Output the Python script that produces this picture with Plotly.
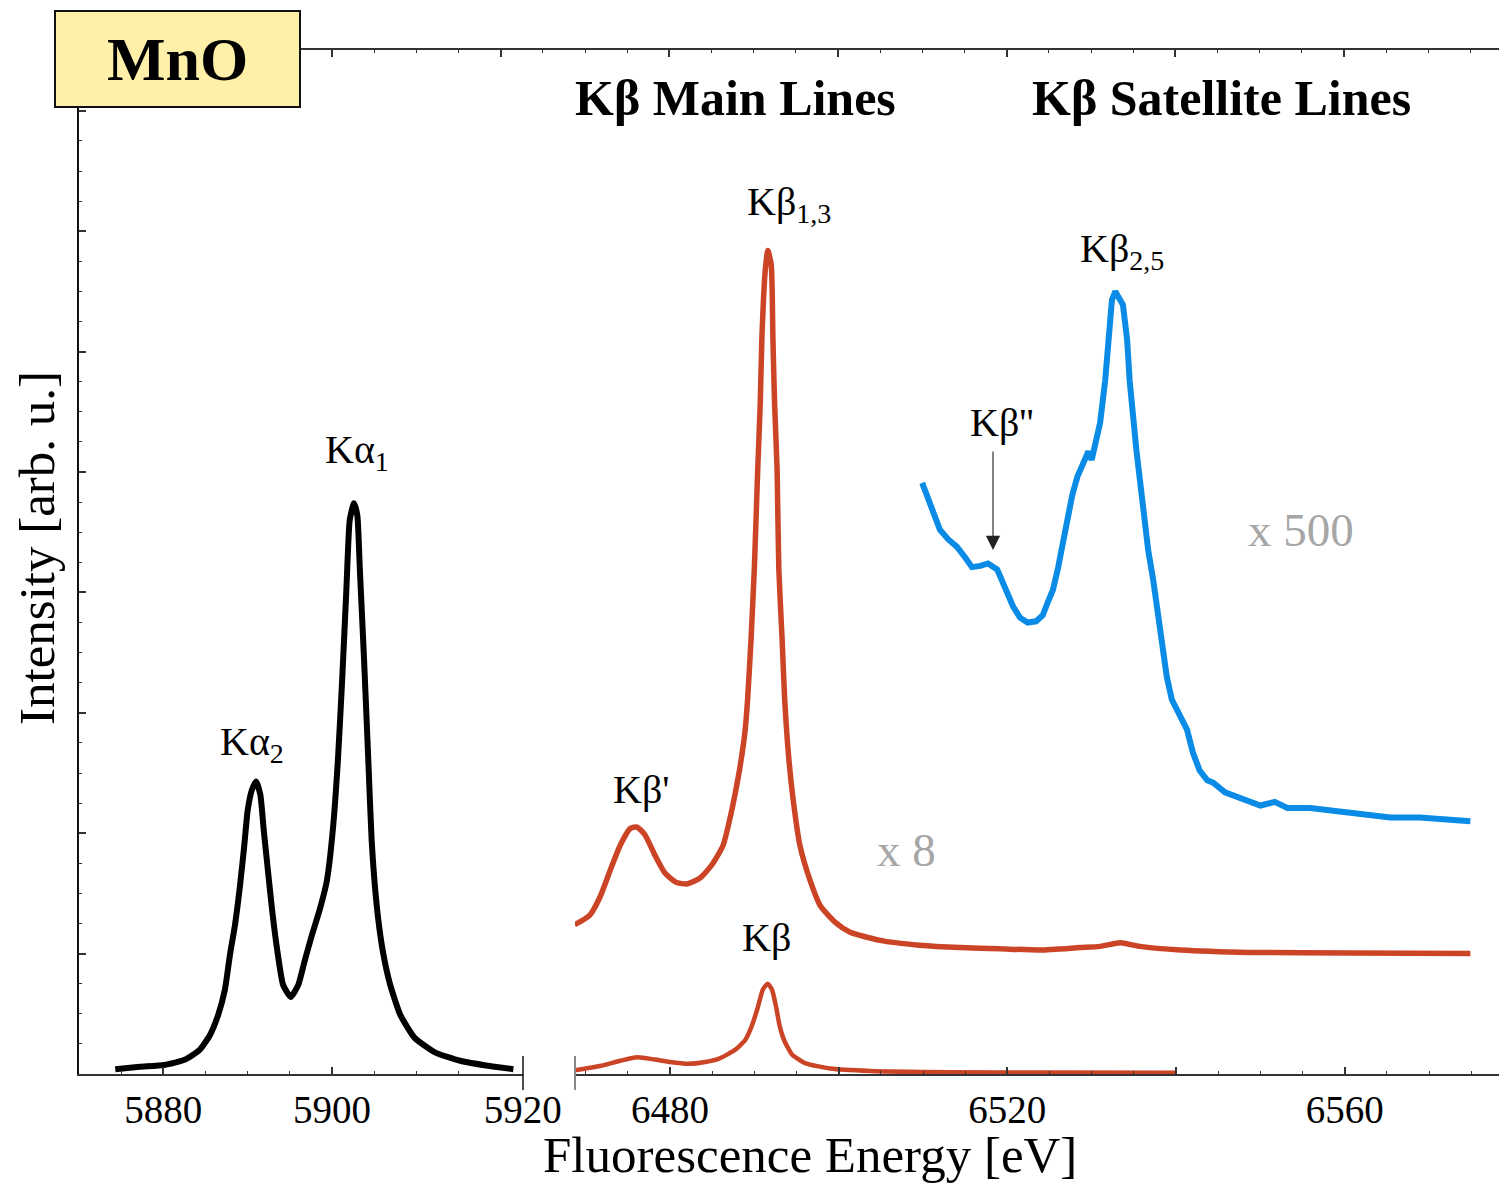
import plotly.graph_objects as go

# ---------------- data ----------------
kalpha_x = [5874.3, 5877.2, 5880.1, 5882.6, 5884.3, 5885.5, 5886.5, 5887.3, 5887.9, 5888.5,
            5889.1, 5889.6, 5890.0, 5890.5, 5891.0, 5891.5, 5891.9, 5892.4, 5892.9, 5893.5,
            5894.2, 5895.1, 5896.0, 5896.8, 5897.6, 5898.6, 5899.4, 5900.1, 5900.7, 5901.2,
            5901.7, 5902.1, 5902.6, 5903.0, 5903.3, 5903.8, 5904.3, 5904.7, 5905.3, 5906.0,
            5906.9, 5908.1, 5909.8, 5912.2, 5915.2, 5918.7, 5921.5]
kalpha_y = [0.04, 0.06, 0.075, 0.12, 0.20, 0.32, 0.49, 0.70, 0.99, 1.24,
            1.57, 1.90, 2.19, 2.36, 2.43, 2.32, 2.03, 1.69, 1.36, 1.03,
            0.74, 0.64, 0.74, 0.95, 1.15, 1.38, 1.61, 2.03, 2.61, 3.27,
            4.02, 4.60, 4.74, 4.64, 4.19, 3.44, 2.61, 1.94, 1.40, 1.03,
            0.74, 0.49, 0.30, 0.18, 0.11, 0.066, 0.04]

kb8_x = [6468.7, 6470.5, 6471.7, 6472.9, 6474.1, 6475.3, 6476.1, 6477.0, 6478.2, 6479.4,
         6480.8, 6482.1, 6483.6, 6485.0, 6486.3, 6487.1, 6487.7, 6488.3, 6488.9, 6489.2,
         6489.6, 6490.0, 6490.4, 6490.7, 6490.9, 6491.3, 6491.6, 6492.0, 6492.2, 6492.4,
         6492.7, 6492.9, 6493.3, 6493.6, 6494.1, 6494.6, 6495.4, 6496.6, 6497.8, 6499.6,
         6501.3, 6504.9, 6509.6, 6514.4, 6519.1, 6523.9, 6528.6, 6531.0, 6533.4, 6535.7,
         6540.5, 6548.8, 6560.6, 6574.9]
kb8_y = [1.24, 1.32, 1.47, 1.69, 1.90, 2.04, 2.05, 1.99, 1.82, 1.67,
         1.59, 1.58, 1.63, 1.74, 1.90, 2.12, 2.32, 2.55, 2.85, 3.11,
         3.60, 4.20, 5.02, 5.57, 6.12, 6.68, 6.84, 6.72, 6.12, 5.57,
         5.02, 4.20, 3.60, 3.11, 2.61, 2.28, 1.90, 1.61, 1.40, 1.26,
         1.18, 1.11, 1.07, 1.05, 1.04, 1.03, 1.05, 1.06, 1.09, 1.06,
         1.03, 1.01, 1.005, 1.00]

kb1_x = [6468.7, 6471.7, 6474.1, 6476.1, 6478.2, 6480.0, 6482.1, 6484.2, 6485.9, 6487.7,
         6488.9, 6489.7, 6490.4, 6491.0, 6491.6, 6492.1, 6492.6, 6493.0, 6493.6, 6494.5,
         6496.0, 6499.0, 6503.7, 6513.2, 6525.1, 6539.9]
kb1_y = [0.03, 0.066, 0.11, 0.14, 0.12, 0.10, 0.085, 0.10, 0.13, 0.20,
         0.28, 0.40, 0.55, 0.70, 0.75, 0.70, 0.55, 0.40, 0.27, 0.16,
         0.09, 0.045, 0.025, 0.015, 0.012, 0.01]

sat_x = [6509.9, 6510.8, 6512.0, 6513.0, 6514.0, 6515.0, 6515.8, 6516.8, 6517.7, 6518.8,
         6519.7, 6520.7, 6521.5, 6522.4, 6523.4, 6524.2, 6524.8, 6525.4, 6526.0, 6526.6,
         6527.2, 6527.7, 6528.3, 6528.7, 6529.2, 6529.6, 6530.0, 6530.5, 6531.0, 6531.6,
         6532.1, 6532.4, 6532.8, 6533.2, 6533.7, 6534.2, 6534.5, 6535.3, 6536.1, 6536.7,
         6537.3, 6538.1, 6538.9, 6539.5, 6540.5, 6541.3, 6542.0, 6542.8, 6543.7, 6544.4,
         6545.8, 6547.6, 6550.0, 6551.7, 6553.2, 6555.9, 6558.3, 6560.6, 6563.0, 6565.4,
         6568.9, 6571.9, 6574.9]
sat_y = [4.91, 4.73, 4.52, 4.44, 4.38, 4.29, 4.21, 4.22, 4.24, 4.19,
         4.04, 3.88, 3.79, 3.75, 3.76, 3.81, 3.92, 4.02, 4.20, 4.44,
         4.67, 4.81, 4.96, 5.03, 5.12, 5.17, 5.10, 5.27, 5.41, 5.76,
         6.18, 6.43, 6.50, 6.45, 6.39, 6.10, 5.76, 5.18, 4.66, 4.35,
         4.10, 3.69, 3.30, 3.11, 2.98, 2.86, 2.67, 2.52, 2.44, 2.42,
         2.34, 2.29, 2.23, 2.26, 2.21, 2.21, 2.19, 2.17, 2.15, 2.13,
         2.13, 2.12, 2.10]

left_tickvals = [5880, 5900, 5922.6]
left_ticktext = ["5880", "5900", "5920"]
left_minor = [5875, 5885, 5890, 5895, 5905, 5910, 5915]
right_tickvals = [6480, 6500, 6520, 6540, 6560]
right_ticktext = ["6480", "", "6520", "", "6560"]

# ---------------- styling ----------------
SERIF = "Liberation Serif, Times New Roman, serif"
BLACK = "#000000"
RED = "#CC4426"
BLUE = "#0A8BE6"
GRAY_TXT = "#A6A6A6"

fig = go.Figure()
# carrier for the top (mirror) axis, added first so its subplot sits underneath
fig.add_trace(go.Scatter(x=[5950], y=[-5], xaxis="x3", yaxis="y", mode="lines",
                         showlegend=False, hoverinfo="skip"))
fig.add_trace(go.Scatter(x=kalpha_x, y=kalpha_y, xaxis="x", yaxis="y", mode="lines",
                         line=dict(color=BLACK, width=6, shape="spline", smoothing=0.5),
                         showlegend=False, hoverinfo="skip"))
fig.add_trace(go.Scatter(x=kb8_x, y=kb8_y, xaxis="x2", yaxis="y", mode="lines",
                         line=dict(color=RED, width=5.5, shape="spline", smoothing=0.6),
                         showlegend=False, hoverinfo="skip"))
fig.add_trace(go.Scatter(x=kb1_x, y=kb1_y, xaxis="x2", yaxis="y", mode="lines",
                         line=dict(color=RED, width=4.5, shape="spline", smoothing=0.5),
                         showlegend=False, hoverinfo="skip"))
fig.add_trace(go.Scatter(x=sat_x, y=sat_y, xaxis="x2", yaxis="y", mode="lines",
                         line=dict(color=BLUE, width=6),
                         showlegend=False, hoverinfo="skip"))

W, H = 1499, 1183
L, R, T, B = 79, 0, 50, 109
PW, PH = W - L - R, H - T - B
PX_PER_EV = 8.434

def px(xp):
    return (xp - L) / PW

def py(yp):
    return (H - B - yp) / PH

left_end = px(523)
right_start = px(575)

tickfont = dict(family=SERIF, size=39, color=BLACK)
axis_common = dict(showline=True, linecolor="#333333", linewidth=1.5, ticks="inside",
                   ticklen=7, tickwidth=1.5, tickcolor="#333333", showgrid=False,
                   zeroline=False, tickfont=tickfont, automargin=False)

fig.update_layout(
    width=W, height=H, autosize=False,
    margin=dict(l=L, r=R, t=T, b=B, pad=0),
    paper_bgcolor="white", plot_bgcolor="rgba(0,0,0,0)",
    xaxis=dict(domain=[0, left_end], range=[5870, 5870 + (523 - L) / PX_PER_EV],
               tickmode="array", tickvals=left_tickvals, ticktext=left_ticktext,
               minor=dict(tickmode="array", tickvals=left_minor, ticklen=3,
                          tickwidth=1.2, tickcolor="#333333", ticks="inside", showgrid=False),
               anchor="y", **axis_common),
    xaxis2=dict(domain=[right_start, 1],
                range=[6480 - (670 - 575) / PX_PER_EV, 6480 + (W - 670) / PX_PER_EV],
                tickmode="array", tickvals=right_tickvals, ticktext=right_ticktext,
                minor=dict(dtick=5, tick0=6470, ticklen=3, tickwidth=1.2,
                           tickcolor="#333333", ticks="inside", showgrid=False),
                anchor="y", **axis_common),
    xaxis3=dict(domain=[0, 1], range=[5870, 5870 + PW / PX_PER_EV], side="top",
                anchor="y", showline=True, linecolor="#333333", linewidth=1.5,
                ticks="inside", ticklen=7, tickwidth=1.5, tickcolor="#333333",
                dtick=20, tick0=5900, showticklabels=False, showgrid=False, zeroline=False,
                automargin=False,
                minor=dict(dtick=5, tick0=5900, ticklen=3, tickwidth=1.2,
                           tickcolor="#333333", ticks="inside", showgrid=False)),
    yaxis=dict(domain=[0, 1], range=[0, (H - B - T) / 120.4], anchor="x",
               showline=True, linecolor="#111111", linewidth=2, ticks="inside",
               ticklen=7, tickwidth=1.5, tickcolor="#333333", dtick=1, tick0=0,
               showticklabels=False, showgrid=False, zeroline=False, automargin=False,
               minor=dict(dtick=0.25, ticklen=3, tickwidth=1.2, tickcolor="#333333",
                          ticks="inside", showgrid=False)),
)

# axis-break marks
fig.add_shape(type="line", xref="paper", yref="paper", x0=left_end, x1=left_end,
              y0=py(1056), y1=py(1090), line=dict(color="#111111", width=1.5))
fig.add_shape(type="line", xref="paper", yref="paper", x0=right_start, x1=right_start,
              y0=py(1056), y1=py(1090), line=dict(color="#888888", width=2))

def ann(text, xpix, ypix, size, color=BLACK, bold=False, **kw):
    t = f"<b>{text}</b>" if bold else text
    fig.add_annotation(text=t, x=px(xpix), y=py(ypix), xref="paper", yref="paper",
                       showarrow=False, xanchor="center", yanchor="middle",
                       font=dict(family=SERIF, size=size, color=color), **kw)

# titles
ann("Kβ Main Lines", 735, 98, 50, bold=True)
ann("Kβ Satellite Lines", 1221, 98, 50, bold=True)
ann("Fluorescence Energy [eV]", 810, 1155, 51)
ann("Intensity [arb. u.]", 37, 548, 51, textangle=-90)

# peak labels
ann("Kα<sub>2</sub>", 252, 744, 40)
ann("Kα<sub>1</sub>", 357, 452, 40)
ann("Kβ'", 641, 789, 40)
ann("Kβ<sub>1,3</sub>", 789, 204, 40)
ann("Kβ", 766, 937, 40)
ann("Kβ<sub>2,5</sub>", 1122, 251, 40)
ann("Kβ''", 1002, 422, 40)
ann("x 8", 906, 850, 47, color=GRAY_TXT)
ann("x 500", 1301, 530, 47, color=GRAY_TXT)

# arrow to Kβ''
fig.add_annotation(x=px(993), y=py(550), xref="paper", yref="paper", text="",
                   showarrow=True, ax=0, ay=-100, arrowhead=2, arrowsize=2.6,
                   arrowwidth=1.1, arrowcolor="#222222")

# MnO box
fig.add_annotation(text="<b>MnO</b>", x=px(177), y=py(59), xref="paper", yref="paper",
                   showarrow=False, xanchor="center", yanchor="middle",
                   width=243, height=94, bgcolor="#FEF0A8", bordercolor="#111111",
                   borderwidth=2, borderpad=0,
                   font=dict(family=SERIF, size=62, color=BLACK))

fig.write_html("out.html")
